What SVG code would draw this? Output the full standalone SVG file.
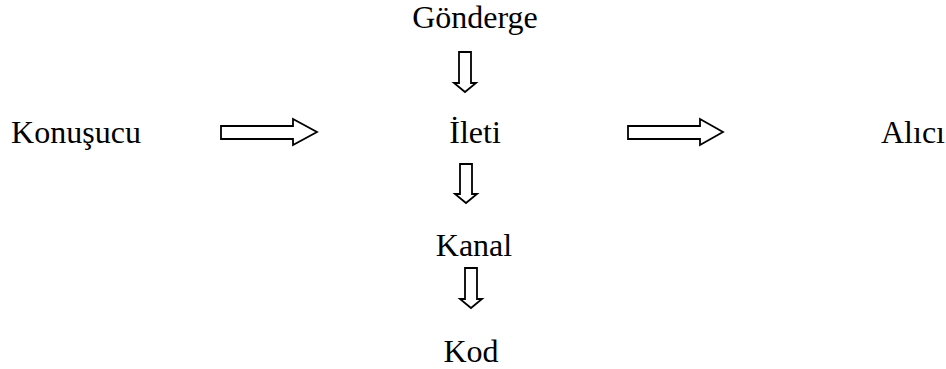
<svg xmlns="http://www.w3.org/2000/svg" width="946" height="369" viewBox="0 0 946 369">
<style>
text{font-family:"Liberation Serif","Times New Roman",serif;font-size:32px;fill:#000;text-anchor:middle}
.arr{fill:#fff;stroke:#000;stroke-width:1.8;stroke-linejoin:miter}
</style>
<rect width="946" height="369" fill="#fff"/>
<g id="gonderge"><text x="475" y="28">Gönderge</text></g>
<g id="konusucu"><text x="76" y="143">Konuşucu</text></g>
<g id="ileti"><text x="475" y="143">İleti</text></g>
<g id="alici"><text x="913" y="143">Alıcı</text></g>
<g id="kanal"><text x="474" y="256">Kanal</text></g>
<g id="kod"><text x="471" y="362">Kod</text></g>
<g id="connectors">
<path class="arr" d="M459,52 H471 V83 H476 L465,92 L454,83 H459 Z"/>
<path class="arr" d="M460,164 H472 V194 H477 L466,203 L455,194 H460 Z"/>
<path class="arr" d="M465,268 H477 V299 H482 L471,308 L460,299 H465 Z"/>
<path class="arr" d="M221,126 H293 V119 L317,132 L293,145 V139 H221 Z"/>
<path class="arr" d="M628,126 H700 V119 L723,132 L700,145 V139 H628 Z"/>
</g>
</svg>
